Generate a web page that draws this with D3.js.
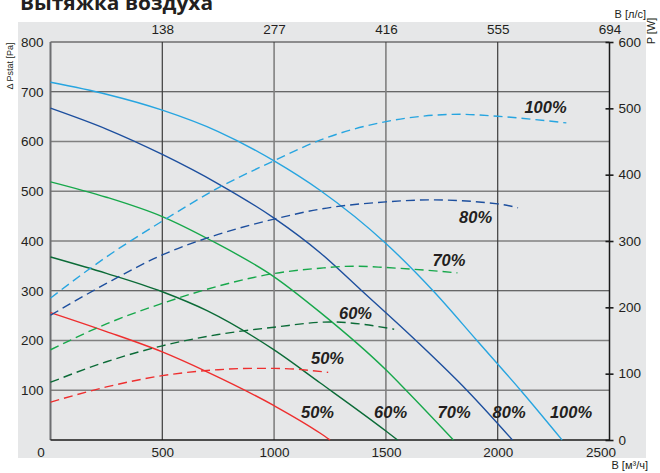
<!DOCTYPE html>
<html>
<head>
<meta charset="utf-8">
<script src="https://cdn.jsdelivr.net/npm/d3@7"></script>
<style>
  body { margin: 0; background: #fff; }
  text { font-family: "Liberation Sans", Arial, sans-serif; fill: #231f20; }
</style>
</head>
<body>
<div id="chart"></div>
<script>
// ---- data ----
const flowTicks = [0, 500, 1000, 1500, 2000, 2500];       // B [m3/h]
const lsTicks = ["138", "277", "416", "555", "694"];      // B [l/s]
const paTicks = [100, 200, 300, 400, 500, 600, 700, 800]; // Pa
const wTicks = [0, 100, 200, 300, 400, 500, 600];         // W
const speeds = ["50%", "60%", "70%", "80%", "100%"];
const colors = ["#ee2f2f", "#0b6b37", "#17a84b", "#1d4f9e", "#27a5e0"];

// pressure curves  [flow m3/h, Pa]
const press50 = [[0, 256], [250, 218], [500, 177], [700, 137], [1000, 69], [1205, 14], [1250, 0]];
const press60 = [[0, 368], [250, 335], [500, 298], [700, 260], [1000, 181], [1205, 115], [1500, 18], [1552, 0]];
const press70 = [[0, 519], [250, 488], [500, 449], [714, 402], [1000, 328], [1205, 257], [1500, 141], [1590, 100], [1802, 0]];
const press80 = [[0, 667], [250, 625], [500, 574], [750, 515], [1000, 446], [1207, 376], [1392, 300], [1634, 200], [1862, 100], [2066, 0]];
const press100 = [[0, 719], [250, 695], [500, 663], [750, 620], [1000, 561], [1205, 502], [1500, 395], [1711, 300], [1907, 200], [2108, 97], [2288, 0]];

// power curves  [flow m3/h, W]
const pow50 = [[0, 57], [250, 80], [500, 97], [750, 106], [900, 108], [1000, 108], [1242, 102]];
const pow60 = [[0, 87], [250, 118], [500, 142], [750, 159], [1000, 170], [1250, 178], [1537, 167]];
const pow70 = [[0, 136], [250, 175], [500, 206], [750, 232], [1000, 251], [1205, 259], [1355, 262], [1500, 260], [1820, 252]];
const pow80 = [[0, 188], [250, 236], [500, 279], [750, 310], [1000, 333], [1205, 348], [1500, 359], [1700, 362], [2000, 356], [2091, 350]];
const pow100 = [[0, 214], [250, 276], [500, 330], [750, 380], [1000, 421], [1205, 452], [1500, 480], [1833, 491], [2000, 488], [2307, 478]];

const pressCurves = [press50, press60, press70, press80, press100];
const powCurves = [pow50, pow60, pow70, pow80, pow100];

// label anchors [flow, Pa]
const powLabelPos = [[1239, 165], [1364, 255], [1782, 362], [1901, 449], [2214, 670]];
const pressLabelPos = [[1194, 57], [1521, 57], [1805, 57], [2051, 57], [2328, 57]];

// ---- canvas ----
const W = 660, H = 473;
const svg = d3.select("#chart").append("svg")
    .attr("width", W)
    .attr("height", H);

const pLeft = 50.5, pRight = 609.5, pTop = 42, pBottom = 440;

const x = d3.scaleLinear().domain([0, 2500]).range([pLeft, pRight]);
const y = d3.scaleLinear().domain([0, 800]).range([pBottom, pTop]);
const yW = d3.scaleLinear().domain([0, 600]).range([pBottom, pTop]);

// grey panel
svg.append("rect")
    .attr("x", 18).attr("y", 22)
    .attr("width", 628).attr("height", 436)
    .attr("fill", "#e6e7e8");

// title (cut at the top edge, as in the source)
svg.append("text")
    .attr("x", 20).attr("y", 10)
    .attr("textLength", 193)
    .attr("lengthAdjust", "spacingAndGlyphs")
    .style("font-family", "'Open Sans', sans-serif")
    .style("font-weight", "bold")
    .style("font-size", "19px")
    .text("Вытяжка воздуха");

// grid
const darkGrid = "#3c3c3c", lightGrid = "#808080";
const hGridDark = [700, 300];
svg.append("g").selectAll("line")
    .data([100, 200, 300, 400, 500, 600, 700])
    .enter().append("line")
    .attr("x1", pLeft).attr("x2", pRight)
    .attr("y1", d => y(d)).attr("y2", d => y(d))
    .attr("stroke", d => hGridDark.includes(d) ? darkGrid : lightGrid)
    .attr("stroke-width", d => hGridDark.includes(d) ? 1.2 : 1.6);

const vGridDark = [500, 2000];
svg.append("g").selectAll("line")
    .data([500, 1000, 1500, 2000])
    .enter().append("line")
    .attr("y1", pTop).attr("y2", pBottom)
    .attr("x1", d => x(d)).attr("x2", d => x(d))
    .attr("stroke", d => vGridDark.includes(d) ? darkGrid : lightGrid)
    .attr("stroke-width", d => vGridDark.includes(d) ? 1.2 : 1.6);

// frame
svg.append("line").attr("x1", pLeft).attr("x2", pRight).attr("y1", pTop).attr("y2", pTop)
    .attr("stroke", "#333").attr("stroke-width", 1.2);
svg.append("line").attr("x1", pLeft).attr("x2", pLeft).attr("y1", pTop).attr("y2", pBottom)
    .attr("stroke", "#6d6e71").attr("stroke-width", 2);
svg.append("line").attr("x1", pLeft).attr("x2", pRight).attr("y1", pBottom).attr("y2", pBottom)
    .attr("stroke", "#1a1a1a").attr("stroke-width", 1.6);
svg.append("line").attr("x1", pRight).attr("x2", pRight).attr("y1", pTop).attr("y2", pBottom)
    .attr("stroke", "#1a1a1a").attr("stroke-width", 1.5);

// curves
const line = d3.line()
    .x(d => x(d[0]))
    .curve(d3.curveMonotoneX);

pressCurves.forEach((c, i) => {
    svg.append("path")
        .datum(c)
        .attr("d", line.y(d => y(d[1])))
        .attr("fill", "none")
        .attr("stroke", colors[i])
        .attr("stroke-width", 1.4);
});

powCurves.forEach((c, i) => {
    svg.append("path")
        .datum(c)
        .attr("d", line.y(d => yW(d[1])))
        .attr("fill", "none")
        .attr("stroke", colors[i])
        .attr("stroke-width", 1.4)
        .attr("stroke-dasharray", "9,5");
});

// curve labels
const labelStyle = sel => sel
    .attr("text-anchor", "middle")
    .attr("dominant-baseline", "central")
    .style("font-weight", "bold")
    .style("font-style", "italic")
    .style("font-size", "16.5px");

svg.append("g").selectAll("text")
    .data(powLabelPos)
    .enter().append("text")
    .attr("x", d => x(d[0])).attr("y", d => y(d[1]))
    .call(labelStyle)
    .text((d, i) => speeds[i]);

svg.append("g").selectAll("text")
    .data(pressLabelPos)
    .enter().append("text")
    .attr("x", d => x(d[0])).attr("y", d => y(d[1]))
    .call(labelStyle)
    .text((d, i) => speeds[i]);

// axes
const tickFont = g => g.selectAll("text").style("font-size", "13.5px").attr("fill", "#231f20");

const axLeft = svg.append("g")
    .attr("transform", `translate(${pLeft},0)`)
    .call(d3.axisLeft(y).tickValues(paTicks).tickSize(0).tickPadding(7).tickFormat(d3.format("d")))
    .call(tickFont);
axLeft.select(".domain").remove();

const axBottom = svg.append("g")
    .attr("transform", `translate(0,${pBottom})`)
    .call(d3.axisBottom(x).tickValues(flowTicks).tickSize(0).tickPadding(7).tickFormat(d3.format("d")))
    .call(tickFont);
axBottom.select(".domain").remove();
axBottom.selectAll(".tick text")
    .attr("x", d => d === 0 ? -10 : (d === 2500 ? -9 : 0));

const axTop = svg.append("g")
    .attr("transform", `translate(0,${pTop})`)
    .call(d3.axisTop(x).tickValues(flowTicks.slice(1)).tickSize(0).tickPadding(8)
        .tickFormat((d, i) => lsTicks[i]))
    .call(tickFont);
axTop.select(".domain").remove();

const axRight = svg.append("g")
    .attr("transform", `translate(${pRight},0)`)
    .call(d3.axisRight(yW).tickValues(wTicks).tickSize(4).tickPadding(5))
    .call(tickFont);
axRight.select(".domain").remove();
axRight.selectAll(".tick line")
    .attr("x1", -4)
    .attr("stroke", "#1a1a1a")
    .attr("stroke-width", 1.6);

// axis titles
svg.append("text")
    .attr("transform", "translate(13,66) rotate(-90)")
    .attr("text-anchor", "middle")
    .style("font-size", "9px")
    .text("Δ Pstat [Pa]");

svg.append("text")
    .attr("transform", "translate(655,31) rotate(-90)")
    .attr("text-anchor", "middle")
    .style("font-size", "11px")
    .text("P [W]");

svg.append("text")
    .attr("x", 646).attr("y", 18)
    .attr("text-anchor", "end")
    .style("font-size", "11px")
    .text("В [л/с]");

svg.append("text")
    .attr("x", 648).attr("y", 469)
    .attr("text-anchor", "end")
    .style("font-size", "11px")
    .text("В [м³/ч]");
</script>
</body>
</html>
